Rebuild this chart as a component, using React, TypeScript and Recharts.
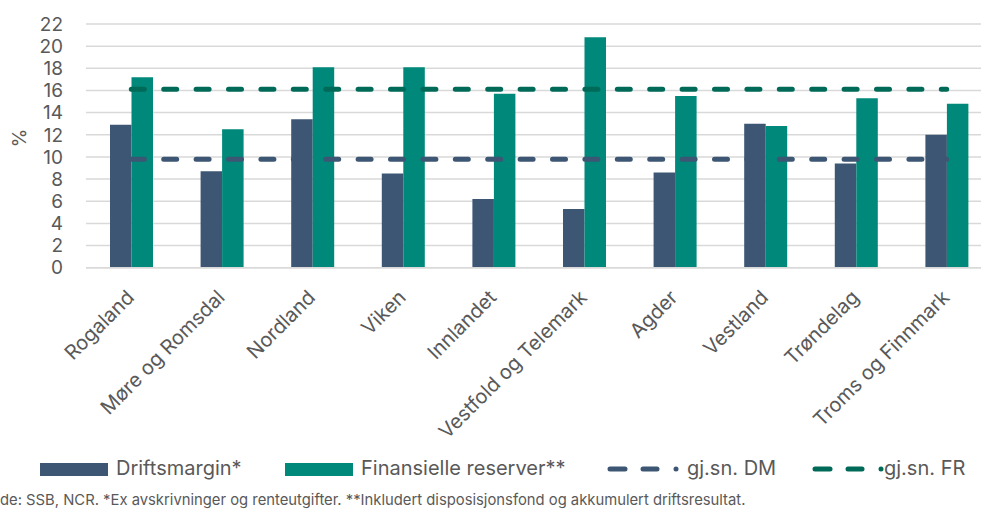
import { ComposedChart, Bar, Line, XAxis, YAxis, CartesianGrid } from "recharts";

const regions = [
  "Rogaland",
  "Møre og Romsdal",
  "Nordland",
  "Viken",
  "Innlandet",
  "Vestfold og Telemark",
  "Agder",
  "Vestland",
  "Trøndelag",
  "Troms og Finnmark",
];
const driftsmargin = [12.9, 8.7, 13.4, 8.5, 6.2, 5.3, 8.6, 13.0, 9.4, 12.0];
const finansielleReserver = [17.2, 12.5, 18.1, 18.1, 15.7, 20.8, 15.5, 12.8, 15.3, 14.8];
const snittDM = 9.8;
const snittFR = 16.1;
const yTicks = [0, 2, 4, 6, 8, 10, 12, 14, 16, 18, 20, 22];

const DM_COLOR = "#3d5673";
const FR_COLOR = "#00897a";
const FR_LINE = "#006a58";
const TEXT = "#595959";
const FONT = "Inter, 'Noto Sans', sans-serif";

const data = regions.map((r, i) => ({
  region: r,
  dm: driftsmargin[i],
  fr: finansielleReserver[i],
  avgDm: snittDM,
  avgFr: snittFR,
}));

function XTick(props: any) {
  const { x, y, payload } = props;
  const tx = x + 4;
  const ty = y + 29;
  return (
    <text
      x={tx}
      y={ty}
      textAnchor="end"
      fill={TEXT}
      fontSize={20}
      fontFamily={FONT}
      transform={`rotate(-45, ${tx}, ${ty})`}
    >
      {payload.value}
    </text>
  );
}

function LineIcon({ color }: { color: string }) {
  return (
    <svg width={74} height={12} style={{ display: "block" }}>
      <line x1={3} y1={6} x2={18} y2={6} stroke={color} strokeWidth={5} strokeLinecap="round" />
      <line x1={36} y1={6} x2={50} y2={6} stroke={color} strokeWidth={5} strokeLinecap="round" />
      <circle cx={69} cy={6} r={2.5} fill={color} />
    </svg>
  );
}

export default function App() {
  const legendText = { position: "absolute" as const, top: 455, fontSize: 20, color: TEXT, fontFamily: FONT, lineHeight: "26px", whiteSpace: "nowrap" as const };
  return (
    <div style={{ position: "absolute", left: 0, top: 0, width: 981, height: 511, overflow: "hidden", background: "#fff" }}>
      <ComposedChart
        width={992}
        height={511}
        data={data}
        margin={{ top: 24, right: 0, bottom: 0, left: 0 }}
        barGap={0}
        barSize={21.5}
      >
        <CartesianGrid vertical={false} stroke="#d9d9d9" strokeWidth={1.5} />
        <XAxis
          dataKey="region"
          interval={0}
          height={243.3}
          tick={<XTick />}
          tickLine={false}
          tickSize={0}
          axisLine={{ stroke: "#d9d9d9", strokeWidth: 1.5 }}
        />
        <YAxis
          domain={[0, 22]}
          ticks={yTicks}
          interval={0}
          width={86}
          axisLine={false}
          tickLine={false}
          tickSize={0}
          tickMargin={23}
          tick={{ fill: TEXT, fontSize: 19, fontFamily: FONT }}
          label={(p: any) => (
            <text x={26} y={138} textAnchor="middle" fill={TEXT} fontSize={19} fontFamily={FONT} transform="rotate(-90, 26, 138)">
              %
            </text>
          )}
        />
        <Bar dataKey="dm" name="Driftsmargin*" fill={DM_COLOR} isAnimationActive={false} />
        <Bar dataKey="fr" name="Finansielle reserver**" fill={FR_COLOR} isAnimationActive={false} />
        <Line
          dataKey="avgDm"
          name="gj.sn. DM"
          stroke={DM_COLOR}
          strokeWidth={5}
          strokeDasharray="13 19.4"
          strokeLinecap="round"
          dot={false}
          activeDot={false}
          isAnimationActive={false}
        />
        <Line
          dataKey="avgFr"
          name="gj.sn. FR"
          stroke={FR_LINE}
          strokeWidth={5}
          strokeDasharray="13 19.4"
          strokeLinecap="round"
          dot={false}
          activeDot={false}
          isAnimationActive={false}
        />
      </ComposedChart>

      <div style={{ position: "absolute", left: 40, top: 463, width: 68, height: 13, background: DM_COLOR }} />
      <div style={{ ...legendText, left: 116 }}>Driftsmargin*</div>
      <div style={{ position: "absolute", left: 285, top: 463, width: 68, height: 13, background: FR_COLOR }} />
      <div style={{ ...legendText, left: 361 }}>Finansielle reserver**</div>
      <div style={{ position: "absolute", left: 607, top: 463 }}>
        <LineIcon color={DM_COLOR} />
      </div>
      <div style={{ ...legendText, left: 687 }}>gj.sn. DM</div>
      <div style={{ position: "absolute", left: 812, top: 463 }}>
        <LineIcon color={FR_LINE} />
      </div>
      <div style={{ ...legendText, left: 884 }}>gj.sn. FR</div>

      <div style={{ position: "absolute", left: 0, top: 491, fontSize: 14.8, color: TEXT, fontFamily: FONT, whiteSpace: "nowrap" }}>
        de: SSB, NCR. *Ex avskrivninger og renteutgifter. **Inkludert disposisjonsfond og akkumulert driftsresultat.
      </div>
    </div>
  );
}
